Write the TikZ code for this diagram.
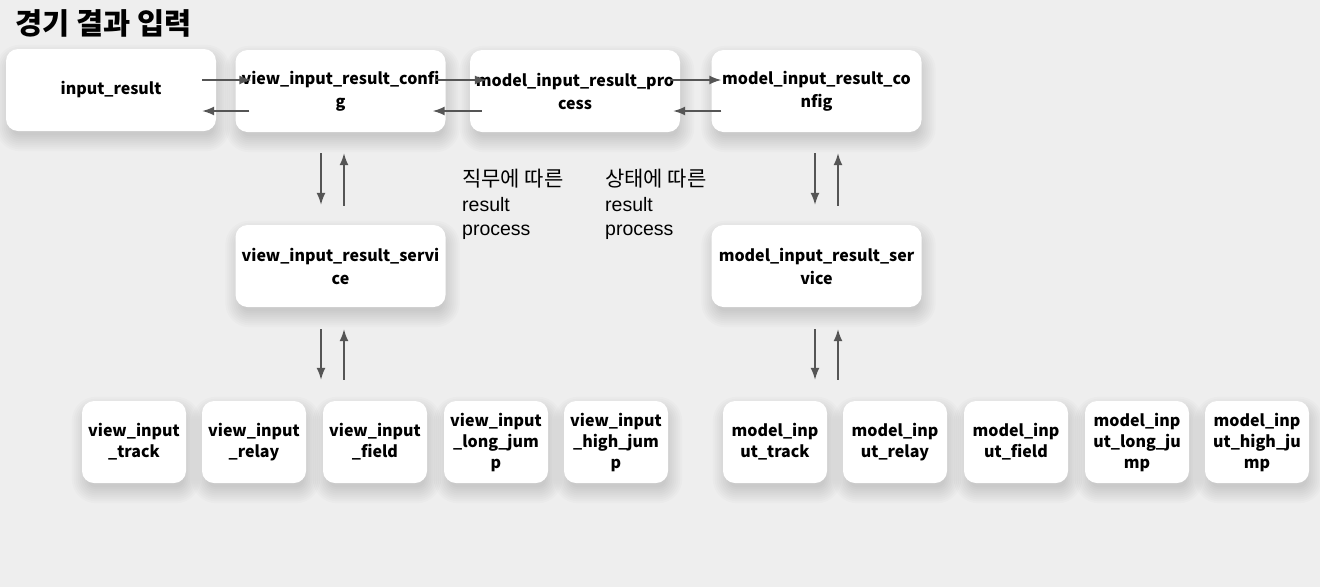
\documentclass[tikz,border=0pt]{standalone}
\usepackage{fontspec}
\setmainfont{Noto Sans CJK KR}
\newfontfamily\latinfont{Liberation Sans}
\usetikzlibrary{%
  arrows.meta,%
  calc,%
  backgrounds%
}
\definecolor{bggray}{HTML}{EEEEEE}
\definecolor{arrowgray}{HTML}{555555}
\tikzset{>={Latex[length=12pt,width=9pt]},
  block/.style={fill=white, rounded corners=12pt, inner sep=0pt,
    minimum width=210pt, minimum height=82pt, align=center,
    font=\bfseries\fontsize{16}{23}\selectfont},
  cell/.style={block, minimum width=104pt,
    font=\bfseries\fontsize{16}{21}\selectfont},
  flow/.style={->, color=arrowgray, line width=1.5pt},
  note/.style={anchor=north west, inner sep=0pt, align=left,
    font=\fontsize{21}{24.5}\selectfont}}

\begin{document}
\begin{tikzpicture}[x=1pt,y=-1pt]
    \useasboundingbox (0,0) rectangle (1320,587);
    \node[anchor=base west, inner sep=0pt,
      font=\bfseries\fontsize{29.5}{32}\selectfont] (title) at (15,34) {경기 결과 입력};
    % top row
    \node[block] (ir) at (111,90) {input\_result};
    \node[block] (vc) at (340.5,91) {view\_input\_result\_confi\\g};
    \node[block] (mp) at (575,91) {model\_input\_result\_pro\\cess};
    \node[block] (mc) at (816.5,91) {model\_input\_result\_co\\nfig};
    % services
    \node[block] (vs) at (340.5,266) {view\_input\_result\_servi\\ce};
    \node[block] (ms) at (816.5,266) {model\_input\_result\_ser\\vice};
    % view events
    \node[cell] (vtrack) at (134,442) {view\_input\\\_track};
    \node[cell] (vrelay) at (254,442) {view\_input\\\_relay};
    \node[cell] (vfield) at (375,442) {view\_input\\\_field};
    \node[cell] (vlong) at (496,442) {view\_input\\\_long\_jum\\p};
    \node[cell] (vhigh) at (616,442) {view\_input\\\_high\_jum\\p};
    % model events
    \node[cell] (mtrack) at (775,442) {model\_inp\\ut\_track};
    \node[cell] (mrelay) at (895,442) {model\_inp\\ut\_relay};
    \node[cell] (mfield) at (1016,442) {model\_inp\\ut\_field};
    \node[cell] (mlong) at (1137,442) {model\_inp\\ut\_long\_ju\\mp};
    \node[cell] (mhigh) at (1257,442) {model\_inp\\ut\_high\_ju\\mp};
    % notes
    \node[note] (jobnote) at (462,169) {직무에 따른\\{\latinfont\fontsize{19.5}{24.5}\selectfont result}\\{\latinfont\fontsize{19.5}{24.5}\selectfont process}};
    \node[note] (statenote) at (605,169) {상태에 따른\\{\latinfont\fontsize{19.5}{24.5}\selectfont result}\\{\latinfont\fontsize{19.5}{24.5}\selectfont process}};
    % soft shadows behind the boxes
    \begin{scope}[on background layer]
      \fill[bggray] (0,0) rectangle (1320,587);
      \foreach \n in {ir,vc,mp,mc,vs,ms,vtrack,vrelay,vfield,vlong,vhigh,mtrack,mrelay,mfield,mlong,mhigh}
        \foreach \e in {0,2,...,16}
          \fill[black, opacity=0.016, rounded corners={(8+\e)*1pt}]
            ($(\n.south west)+({(6-\e)*1pt},{(-4-\e)*1pt})$) rectangle
            ($(\n.north east)+({(\e-2)*1pt},{(\e-12)*1pt})$);
    \end{scope}
    % horizontal flows
    \draw[flow] ($(ir.east)+(-14pt,10pt)$) -- ($(vc.west)+(16pt,11pt)$);
    \draw[flow] ($(vc.east)+(-10pt,11pt)$) -- ($(mp.west)+(17pt,11pt)$);
    \draw[flow] ($(mp.east)+(-10pt,11pt)$) -- ($(mc.west)+(10pt,11pt)$);
    \draw[flow] ($(vc.west)+(14pt,-20pt)$) -- ($(ir.east)+(-14pt,-21pt)$);
    \draw[flow] ($(mp.west)+(12pt,-20pt)$) -- ($(vc.east)+(-13pt,-20pt)$);
    \draw[flow] ($(mc.west)+(10pt,-20pt)$) -- ($(mp.east)+(-7pt,-20pt)$);
    % vertical flows
    \draw[flow] ($(vc.south)+(-19.5pt,-21pt)$) -- ($(vs.north)+(-19.5pt,20pt)$);
    \draw[flow] ($(vs.north)+(3.5pt,19pt)$) -- ($(vc.south)+(3.5pt,-21pt)$);
    \draw[flow] ($(mc.south)+(-1.5pt,-21pt)$) -- ($(ms.north)+(-1.5pt,20pt)$);
    \draw[flow] ($(ms.north)+(21.5pt,19pt)$) -- ($(mc.south)+(21.5pt,-21pt)$);
    \draw[flow] ($(vs.south)+(-19.5pt,-22pt)$) -- ($(vs.south |- vfield.north)+(-19.5pt,21pt)$);
    \draw[flow] ($(vs.south |- vfield.north)+(3.5pt,21pt)$) -- ($(vs.south)+(3.5pt,-22pt)$);
    \draw[flow] ($(ms.south)+(-1.5pt,-22pt)$) -- ($(ms.south |- mtrack.north)+(-1.5pt,21pt)$);
    \draw[flow] ($(ms.south |- mtrack.north)+(21.5pt,21pt)$) -- ($(ms.south)+(21.5pt,-22pt)$);
\end{tikzpicture}
\end{document}
